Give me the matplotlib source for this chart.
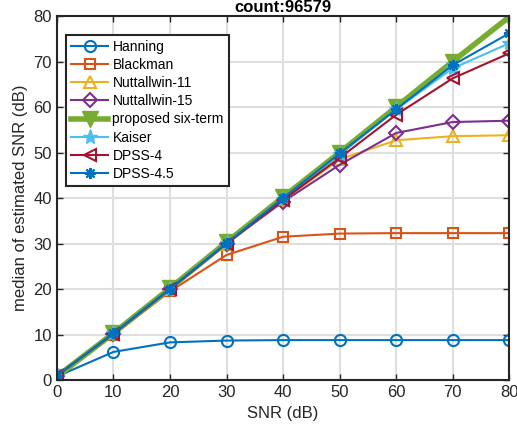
import numpy as np
import matplotlib.pyplot as plt

plt.rcParams['font.family'] = ['Liberation Sans', 'DejaVu Sans']

snr = [0, 10, 20, 30, 40, 50, 60, 70, 80]
hanning = [0.8, 6.2, 8.3, 8.7, 8.8, 8.8, 8.8, 8.8, 8.8]
blackman = [1.0, 10.0, 19.5, 27.5, 31.5, 32.2, 32.3, 32.3, 32.3]
nuttall11 = [1.0, 10.3, 20.0, 30.0, 39.5, 48.5, 52.7, 53.6, 53.8]
nuttall15 = [1.0, 10.2, 20.0, 30.0, 39.2, 47.3, 54.3, 56.7, 57.0]
proposed = [0.8, 10.3, 20.2, 30.3, 40.2, 50.0, 60.0, 70.0, 79.8]
kaiser = [1.0, 10.3, 20.1, 30.1, 39.9, 49.6, 59.5, 68.5, 74.0]
dpss4 = [1.0, 10.2, 20.0, 30.0, 39.6, 48.8, 58.3, 66.3, 71.8]
dpss45 = [1.0, 10.3, 20.1, 30.1, 40.0, 49.8, 59.5, 69.2, 76.2]

fig = plt.figure(figsize=(5.17, 4.32), dpi=100)
ax = fig.add_axes([0.110, 0.120, 0.875, 0.843])

ax.plot(snr, hanning, '-o', color='#0072BD', lw=1.5, ms=8, mfc='none', mew=1.5, label='Hanning')
ax.plot(snr, blackman, '-s', color='#D95319', lw=1.5, ms=7, mfc='none', mew=1.5, label='Blackman')
ax.plot(snr, nuttall11, '-^', color='#EDB120', lw=1.5, ms=8, mfc='none', mew=1.5, label='Nuttallwin-11')
ax.plot(snr, nuttall15, '-D', color='#7E2F8E', lw=1.5, ms=7, mfc='none', mew=1.5, label='Nuttallwin-15')
ax.plot(snr, proposed, '-v', color='#77AC30', lw=4, ms=12, label='proposed six-term')
ax.plot(snr, kaiser, '-*', color='#4DBEEE', lw=1.5, ms=11, label='Kaiser')
ax.plot(snr, dpss4, '-<', color='#A2142F', lw=1.5, ms=9, mfc='none', mew=1.5, label='DPSS-4')
ax.plot(snr, dpss45, '-', marker=(8, 2, 0), color='#0072BD', lw=1.5, ms=8, mew=1.5, label='DPSS-4.5')

ax.set_xlim(0, 80)
ax.set_ylim(0, 80)
ax.set_xticks(snr)
ax.set_yticks(np.arange(0, 81, 10))
ax.grid(True, color='#dfdfdf', lw=1.5)
ax.set_axisbelow(True)
ax.tick_params(direction='in', labelsize=12, colors='#262626', length=4, width=1, top=True, right=True)
for s in ax.spines.values():
    s.set_color('#262626')
    s.set_linewidth(1.5)
for m in ax.xaxis.get_ticklines() + ax.yaxis.get_ticklines():
    m.set_clip_on(False)
ax.set_xlabel('SNR (dB)', fontsize=12, color='#262626')
ax.set_ylabel('median of estimated SNR (dB)', fontsize=12, color='#262626')
ax.set_title('count:96579', fontsize=12, fontweight='bold', pad=3)

leg = ax.legend(loc='upper left', fontsize=10, frameon=True, fancybox=False,
                edgecolor='#262626', framealpha=1, handlelength=2.7,
                labelspacing=0.3, borderpad=0.35, handletextpad=0.3,
                bbox_to_anchor=(0.02, 0.948), borderaxespad=0)
leg.get_frame().set_linewidth(1.5)

fig.savefig('out.png', dpi=100)
